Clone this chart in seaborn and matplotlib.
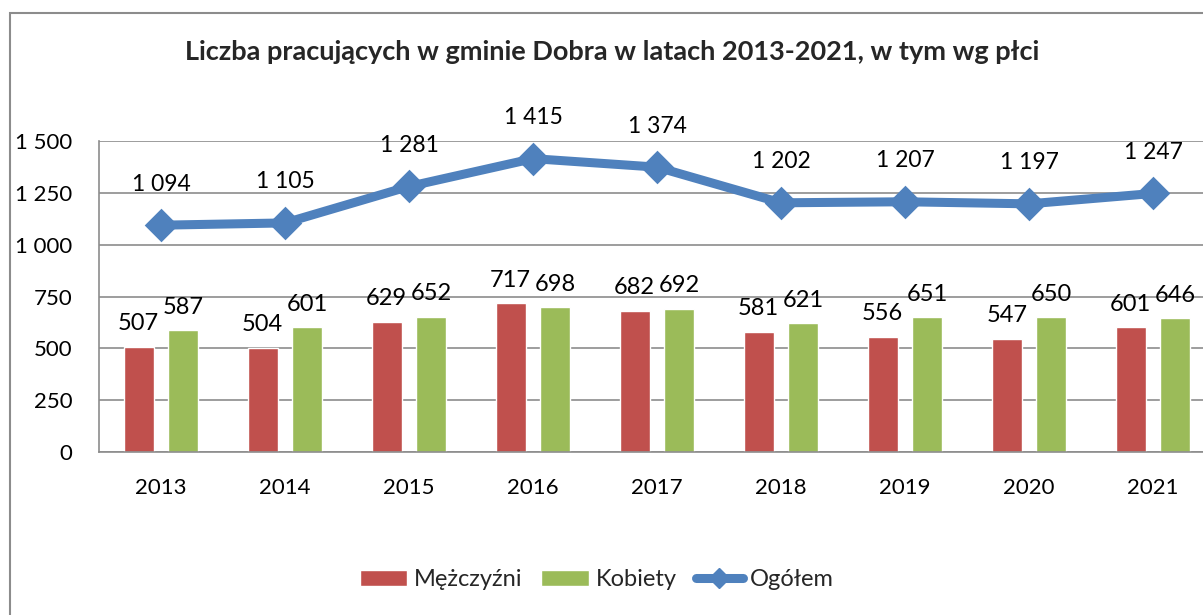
import matplotlib.pyplot as plt
import numpy as np
import pandas as pd
import seaborn as sns
from matplotlib.lines import Line2D
from matplotlib.patches import Patch, Rectangle
from matplotlib.ticker import FuncFormatter

years = ["2013", "2014", "2015", "2016", "2017", "2018", "2019", "2020", "2021"]
men = [507, 504, 629, 717, 682, 581, 556, 547, 601]
women = [587, 601, 652, 698, 692, 621, 651, 650, 646]
total = [1094, 1105, 1281, 1415, 1374, 1202, 1207, 1197, 1247]
series_names = ["Mężczyźni", "Kobiety", "Ogółem"]
title = "Liczba pracujących w gminie Dobra w latach 2013-2021, w tym wg płci"

RED = "#C0504D"
GREEN = "#9BBB59"
BLUE = "#4F81BD"
GRID = "#8C8C8C"


def fmt_thousands(v, _pos=None):
    return f"{int(round(v)):,}".replace(",", " ")


sns.set_theme(style="white")
plt.rcParams["font.family"] = ["Lato", "DejaVu Sans"]

df = pd.DataFrame({
    "rok": years * 2,
    "plec": [series_names[0]] * len(years) + [series_names[1]] * len(years),
    "liczba": men + women,
})

fig = plt.figure(figsize=(12.03, 6.15), dpi=100)
ax = fig.add_axes([0.0823, 0.265, 0.9277, 0.5057])

sns.barplot(data=df, x="rok", y="liczba", hue="plec", palette=[RED, GREEN],
            saturation=1, width=0.72, gap=0.33, edgecolor="white", linewidth=1,
            legend=False, ax=ax, zorder=2)
sns.pointplot(x=years, y=total, color=BLUE, markers="D", markersize=12,
              linewidth=6.5, errorbar=None, ax=ax, zorder=3)

for container in ax.containers:
    ax.bar_label(container, fmt="%d", padding=9, fontsize=17, color="black")

for i, v in enumerate(total):
    ax.annotate(fmt_thousands(v), (i, v), xytext=(0, 22), textcoords="offset points",
                ha="center", va="bottom", fontsize=16.5, color="black")

ax.set_ylim(0, 1500)
ax.set_xlim(-0.5, len(years) - 0.5)
ax.set_yticks(np.arange(0, 1501, 250))
ax.yaxis.set_major_formatter(FuncFormatter(fmt_thousands))
ax.yaxis.grid(True, color=GRID, linewidth=1.2, zorder=0)
ax.set_axisbelow(True)
ax.tick_params(axis="both", length=0, labelsize=16, labelcolor="black")
ax.tick_params(axis="y", pad=19)
ax.tick_params(axis="x", pad=19)
ax.set_xlabel("")
ax.set_ylabel("")
for side in ["top", "right"]:
    ax.spines[side].set_visible(False)
for side in ["left", "bottom"]:
    ax.spines[side].set_color(GRID)
    ax.spines[side].set_linewidth(1.2)

fig.text(0.509, 0.915, title, ha="center", va="center", fontsize=19.5, fontweight="bold")

handles = [
    Patch(facecolor=RED, edgecolor="white"),
    Patch(facecolor=GREEN, edgecolor="white"),
    Line2D([], [], color=BLUE, linewidth=6.5, marker="D", markersize=10),
]
fig.legend(handles, series_names, loc="center", bbox_to_anchor=(0.496, 0.057), ncol=3,
           frameon=False, fontsize=17, handlelength=2.0, handletextpad=0.3,
           columnspacing=0.8)

fig.patches.append(Rectangle((10 / 1203, -0.1), 1.2, 0.1 + 1 - 13 / 615,
                             transform=fig.transFigure, fill=False,
                             edgecolor="#8C8C8C", linewidth=1.5))

fig.savefig("out.png", dpi=100)
